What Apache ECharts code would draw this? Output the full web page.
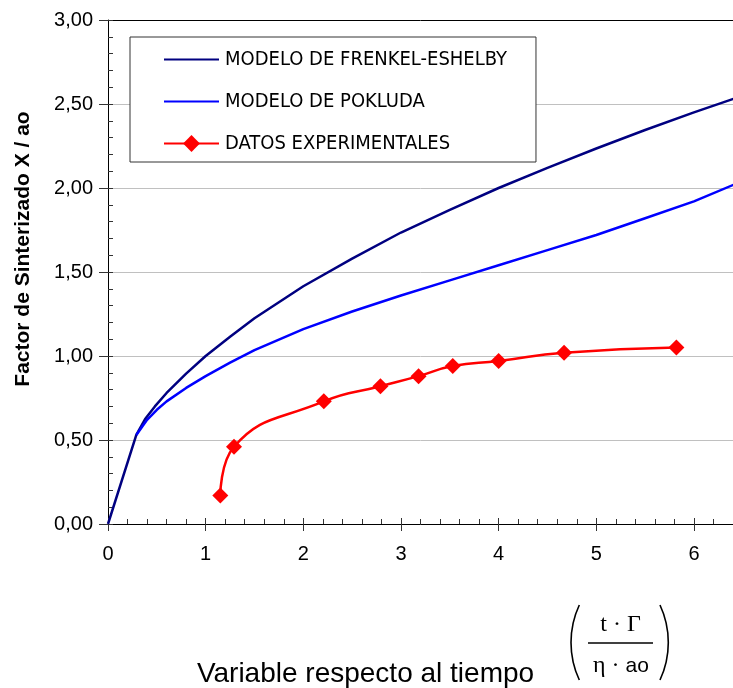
<!DOCTYPE html>
<html>
<head>
<meta charset="utf-8">
<script src="https://cdn.jsdelivr.net/npm/echarts@6/dist/echarts.min.js"></script>
<style>
html,body{margin:0;padding:0;background:#fff;}
#chart{width:733px;height:688px;}
</style>
</head>
<body>
<div id="chart"></div>
<script>
// ---- data ----
const seriesNames = ['MODELO DE FRENKEL-ESHELBY', 'MODELO DE POKLUDA', 'DATOS EXPERIMENTALES'];

const frenkelX = [0, 0.29, 0.38, 0.48, 0.6, 0.8, 1.0, 1.25, 1.5, 1.75, 2.0, 2.5, 3.0, 3.5, 4.0, 4.5, 5.0, 5.5, 6.0, 6.45];
const frenkelY = [0, 0.53, 0.625, 0.70, 0.78, 0.895, 1.0, 1.115, 1.225, 1.32, 1.415, 1.58, 1.735, 1.87, 2.0, 2.12, 2.235, 2.345, 2.45, 2.54];

const pokludaX = [0.29, 0.4, 0.5, 0.6, 0.8, 1.0, 1.25, 1.5, 2.0, 2.5, 3.0, 3.5, 4.0, 4.5, 5.0, 5.5, 6.0, 6.45];
const pokludaY = [0.53, 0.62, 0.68, 0.73, 0.81, 0.88, 0.96, 1.035, 1.16, 1.265, 1.36, 1.45, 1.54, 1.63, 1.72, 1.82, 1.92, 2.03];

const expX = [1.15, 1.29, 2.21, 2.79, 3.18, 3.53, 4.0, 4.67, 5.82];
const expY = [0.17, 0.46, 0.73, 0.82, 0.88, 0.94, 0.97, 1.02, 1.05];

const xTickStep = 1;
const yTickStep = 0.5;

function zip(xs, ys) { return xs.map((x, i) => [x, ys[i]]); }

const chart = echarts.init(document.getElementById('chart'), null, {renderer: 'canvas'});
const baseFont = "'Liberation Sans', Arial, sans-serif";
const tickColor = '#333';

const xCommon = {type: 'value', min: 0, max: 6.4, interval: xTickStep, position: 'bottom'};
const yCommon = {type: 'value', min: 0, max: 3, interval: yTickStep, position: 'left'};

const option = {
  animation: false,
  backgroundColor: '#ffffff',
  grid: {left: 108, top: 20, right: 0, bottom: 164, containLabel: false},
  xAxis: [
    Object.assign({}, xCommon, {
      axisLine: {show: true, onZero: false, lineStyle: {color: '#000', width: 1}},
      axisTick: {show: true, inside: false, length: 7, lineStyle: {color: tickColor}},
      minorTick: {show: false},
      splitLine: {show: false},
      axisLabel: {
        show: true, margin: 20, fontSize: 20, color: '#000', fontFamily: baseFont,
        showMaxLabel: false,
        formatter: v => (Math.abs(v - Math.round(v)) < 1e-9 ? String(Math.round(v)) : '')
      }
    }),
    Object.assign({}, xCommon, {
      axisLine: {show: false, onZero: false},
      axisTick: {show: true, inside: true, length: 6, lineStyle: {color: tickColor}},
      minorTick: {show: true, splitNumber: 5, length: 5, lineStyle: {color: tickColor}},
      splitLine: {show: false},
      axisLabel: {show: false}
    })
  ],
  yAxis: [
    Object.assign({}, yCommon, {
      axisLine: {show: true, onZero: false, lineStyle: {color: '#000', width: 1}},
      axisTick: {show: true, inside: false, length: 9, lineStyle: {color: tickColor}},
      minorTick: {show: false},
      splitLine: {show: true, lineStyle: {color: ['#c0c0c0', '#c0c0c0', '#c0c0c0', '#c0c0c0', '#c0c0c0', '#c0c0c0', '#000000'], width: 1}},
      axisLabel: {
        show: true, margin: 15, fontSize: 20, color: '#000', fontFamily: baseFont,
        formatter: v => v.toFixed(2).replace('.', ',')
      }
    }),
    Object.assign({}, yCommon, {
      axisLine: {show: false, onZero: false},
      axisTick: {show: true, inside: true, length: 5, lineStyle: {color: tickColor}},
      minorTick: {show: true, splitNumber: 5, length: 5, lineStyle: {color: tickColor}},
      splitLine: {show: false},
      axisLabel: {show: false}
    })
  ],
  legend: {
    data: [
      {name: seriesNames[0], itemStyle: {opacity: 0, borderWidth: 0}},
      {name: seriesNames[1], itemStyle: {opacity: 0, borderWidth: 0}},
      {name: seriesNames[2]}
    ],
    orient: 'vertical',
    left: 130, top: 37,
    itemWidth: 55, itemHeight: 21, itemGap: 21,
    padding: [12, 29, 8, 33],
    backgroundColor: '#ffffff',
    borderColor: '#333333', borderWidth: 1,
    selectedMode: false,
    textStyle: {fontSize: 20, lineHeight: 21, color: '#000', fontFamily: "'Liberation Sans Narrow', 'Arial Narrow', 'DejaVu Sans Condensed', sans-serif", padding: [0, 0, 0, 1]}
  },
  series: [
    {
      name: seriesNames[0], type: 'line', xAxisIndex: 0, yAxisIndex: 0,
      data: zip(frenkelX, frenkelY), symbol: 'none', smooth: false,
      lineStyle: {color: '#000080', width: 2.5}, itemStyle: {color: '#000080'}, z: 3
    },
    {
      name: seriesNames[1], type: 'line', xAxisIndex: 0, yAxisIndex: 0,
      data: zip(pokludaX, pokludaY), symbol: 'none', smooth: false,
      lineStyle: {color: '#0000ff', width: 2.5}, itemStyle: {color: '#0000ff'}, z: 4
    },
    {
      name: seriesNames[2], type: 'line', xAxisIndex: 0, yAxisIndex: 0,
      data: zip(expX, expY), symbol: 'diamond', symbolSize: 16, smooth: 0.5,
      lineStyle: {color: '#ff0000', width: 2.5}, itemStyle: {color: '#ff0000'}, z: 5
    }
  ],
  graphic: [
    {
      type: 'text', x: 23.5, y: 249, rotation: Math.PI / 2,
      style: {text: 'Factor de Sinterizado X / ao', fontSize: 21, fontWeight: 'bold', fontFamily: baseFont, fill: '#000', textAlign: 'center', textVerticalAlign: 'middle'}
    },
    {
      type: 'text', x: 365.5, y: 674,
      style: {text: 'Variable respecto al tiempo', fontSize: 28, fontFamily: baseFont, fill: '#000', textAlign: 'center', textVerticalAlign: 'middle'}
    },
    {
      type: 'text', x: 620.5, y: 625,
      style: {text: 't · Γ', fontSize: 24, fontFamily: "'Liberation Serif', 'Times New Roman', serif", fill: '#000', textAlign: 'center', textVerticalAlign: 'middle'}
    },
    {
      type: 'text', x: 621, y: 666,
      style: {
        text: '{s|η · }{a|ao}',
        textAlign: 'center', textVerticalAlign: 'middle',
        rich: {
          s: {fontSize: 24, fontFamily: "'Liberation Serif', 'Times New Roman', serif", fill: '#000'},
          a: {fontSize: 21, fontFamily: baseFont, fill: '#000'}
        }
      }
    },
    {
      type: 'line', shape: {x1: 588, y1: 643, x2: 653, y2: 643},
      style: {stroke: '#000', lineWidth: 1.3}
    },
    {
      type: 'arc', shape: {cx: 659.9, cy: 642.5, r: 88.9, startAngle: Math.PI - 0.4357, endAngle: Math.PI + 0.4357, clockwise: true},
      style: {stroke: '#000', lineWidth: 1.6, fill: null}
    },
    {
      type: 'arc', shape: {cx: 579.4, cy: 642.5, r: 88.9, startAngle: -0.4357, endAngle: 0.4357, clockwise: true},
      style: {stroke: '#000', lineWidth: 1.6, fill: null}
    }
  ]
};
chart.setOption(option);
</script>
</body>
</html>
